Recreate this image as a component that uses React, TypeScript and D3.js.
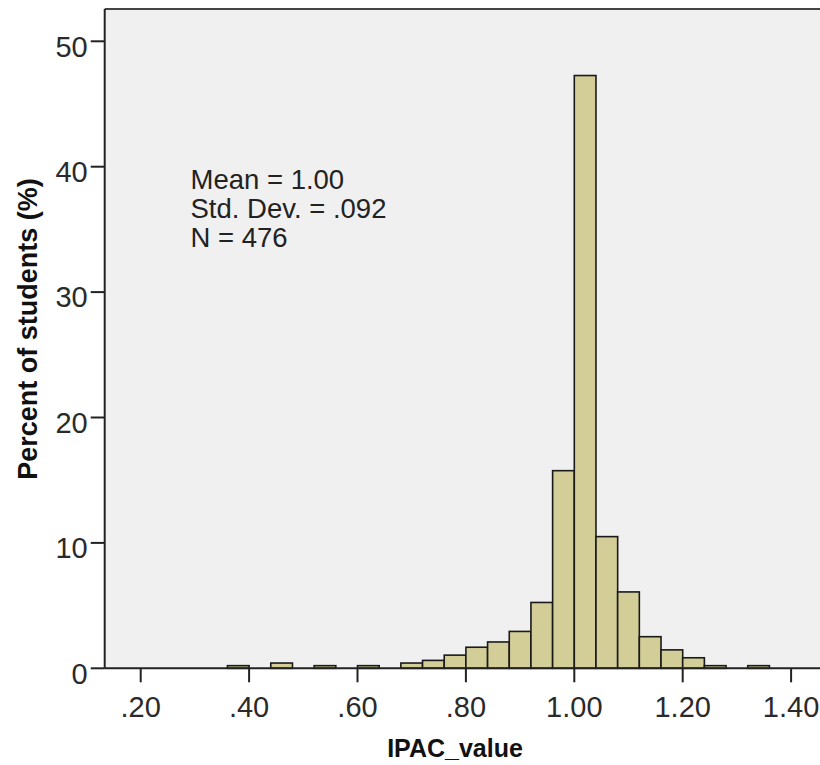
import { useEffect, useRef } from "react";
import * as d3 from "d3";

// bins of width .04 (lower edge) and percent of students in each
const binStarts = [0.36, 0.44, 0.52, 0.6, 0.68, 0.72, 0.76, 0.8, 0.84, 0.88, 0.92, 0.96, 1.0, 1.04, 1.08, 1.12, 1.16, 1.2, 1.24, 1.32];
const percents = [0.21, 0.42, 0.21, 0.21, 0.42, 0.63, 1.05, 1.68, 2.1, 2.94, 5.25, 15.76, 47.27, 10.5, 6.09, 2.52, 1.47, 0.84, 0.21, 0.21];
const binWidth = 0.04;

const xTicks = [0.2, 0.4, 0.6, 0.8, 1.0, 1.2, 1.4];
const xTickLabels = [".20", ".40", ".60", ".80", "1.00", "1.20", "1.40"];
const yTicks = [0, 10, 20, 30, 40, 50];
const statsLines = ["Mean = 1.00", "Std. Dev. = .092", "N = 476"];

const W = 820;
const H = 765;

const App = () => {
  const ref = useRef<SVGSVGElement | null>(null);

  useEffect(() => {
    if (!ref.current) return;
    const svg = d3.select(ref.current);
    svg.selectAll("*").remove();

    const font = "'Liberation Sans', Arial, sans-serif";

    // escalas
    const x = d3.scaleLinear().domain([0.2, 1.4]).range([140.7, 791.1]);
    const y = d3.scaleLinear().domain([0, 50]).range([668.3, 41.3]);

    const left = x(0.1336);
    const right = x(1.47);
    const top = 9;
    const bottom = y(0);

    svg.append("rect").attr("width", W).attr("height", H).attr("fill", "#fff");

    // fondo del área de gráfico
    svg.append("rect")
      .attr("x", left)
      .attr("y", top)
      .attr("width", right - left)
      .attr("height", bottom - top)
      .attr("fill", "#f0f0f0");

    const data = binStarts.map((b, i) => ({ b, v: percents[i] }));

    // barras
    svg.selectAll(".bar")
      .data(data)
      .enter()
      .append("rect")
      .attr("class", "bar")
      .attr("x", (d) => x(d.b))
      .attr("width", (d) => x(d.b + binWidth) - x(d.b))
      .attr("y", (d) => y(d.v))
      .attr("height", (d) => y(0) - y(d.v))
      .attr("fill", "#d3ce97")
      .attr("stroke", "#1a1a1a")
      .attr("stroke-width", 1.6);

    // marco
    svg.append("line")
      .attr("x1", left).attr("x2", right)
      .attr("y1", top).attr("y2", top)
      .attr("stroke", "#444").attr("stroke-width", 2);
    svg.append("line")
      .attr("x1", left).attr("x2", right)
      .attr("y1", bottom).attr("y2", bottom)
      .attr("stroke", "#222").attr("stroke-width", 2);
    svg.append("line")
      .attr("x1", left).attr("x2", left)
      .attr("y1", top).attr("y2", bottom)
      .attr("stroke", "#222").attr("stroke-width", 2);

    // eje Y
    const yAxis = svg.append("g");
    yAxis.selectAll("line")
      .data(yTicks)
      .enter()
      .append("line")
      .attr("x1", left - 14).attr("x2", left)
      .attr("y1", (d) => y(d)).attr("y2", (d) => y(d))
      .attr("stroke", "#222").attr("stroke-width", 2);
    yAxis.selectAll("text")
      .data(yTicks)
      .enter()
      .append("text")
      .attr("x", left - 17)
      .attr("y", (d) => y(d) + 15.3)
      .attr("text-anchor", "end")
      .style("font-family", font)
      .style("font-size", "29px")
      .style("fill", "#2a2a2a")
      .text((d) => d);

    // eje X
    const xAxis = svg.append("g");
    xAxis.selectAll("line")
      .data(xTicks)
      .enter()
      .append("line")
      .attr("x1", (d) => x(d)).attr("x2", (d) => x(d))
      .attr("y1", bottom).attr("y2", bottom + 14)
      .attr("stroke", "#222").attr("stroke-width", 2);
    xAxis.selectAll("text")
      .data(xTicks)
      .enter()
      .append("text")
      .attr("x", (d) => x(d))
      .attr("y", bottom + 49)
      .attr("text-anchor", "middle")
      .style("font-family", font)
      .style("font-size", "29px")
      .style("fill", "#2a2a2a")
      .text((d, i) => xTickLabels[i]);

    // títulos de ejes
    svg.append("text")
      .attr("x", 455)
      .attr("y", 757)
      .attr("text-anchor", "middle")
      .style("font-family", font)
      .style("font-size", "25px")
      .style("font-weight", "700")
      .style("fill", "#111")
      .text("IPAC_value");

    svg.append("text")
      .attr("transform", "translate(37,329) rotate(-90)")
      .attr("text-anchor", "middle")
      .style("font-family", font)
      .style("font-size", "27px")
      .style("font-weight", "700")
      .style("fill", "#111")
      .text("Percent of students (%)");

    // estadísticas
    svg.append("g")
      .selectAll("text")
      .data(statsLines)
      .enter()
      .append("text")
      .attr("x", 190.5)
      .attr("y", (d, i) => 189.3 + i * 29)
      .style("font-family", font)
      .style("font-size", "27.5px")
      .style("fill", "#222")
      .text((d) => d);
  }, []);

  return (
    <svg
      ref={ref}
      width={W}
      height={H}
      style={{ position: "absolute", left: 0, top: 0 }}
    />
  );
};

export default App;
